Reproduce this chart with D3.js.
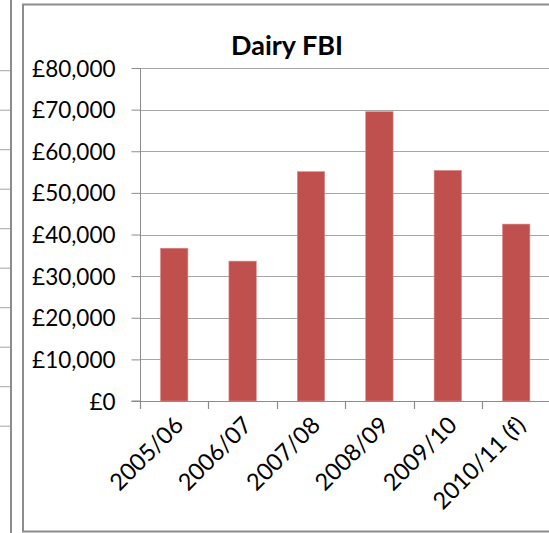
<!DOCTYPE html>
<html>
<head>
<meta charset="utf-8">
<script src="https://cdn.jsdelivr.net/npm/d3@7"></script>
<style>
  html, body { margin: 0; padding: 0; background: #fff; }
  svg { display: block; }
  text { font-family: Lato, "Open Sans", sans-serif; fill: #000; }
</style>
</head>
<body>
<svg id="chart" width="549" height="533"></svg>
<script>
const title = "Dairy FBI";
const categories = ["2005/06", "2006/07", "2007/08", "2008/09", "2009/10", "2010/11 (f)"];
const values = [36700, 33600, 55100, 69500, 55400, 42500];
const yTicks = [0, 10000, 20000, 30000, 40000, 50000, 60000, 70000, 80000];
// neighbouring chart's gridlines peeking in at the left edge (pixel rows)
const neighbourRows = [0, 1, 2, 3, 4, 5, 6, 7, 8, 9];

const svg = d3.select("#chart");
const W = 549, H = 533;

const plot = { left: 140, right: 550.4, top: 68, bottom: 401 };

// neighbour chart fragment
const nY = d3.scaleLinear().domain([0, 9]).range([70.7, 426.2]);
svg.append("g").selectAll("line").data(neighbourRows).join("line")
  .attr("x1", 0).attr("x2", 10).attr("y1", d => nY(d)).attr("y2", d => nY(d))
  .attr("stroke", "#a6a6a6").attr("stroke-width", 1);
svg.append("line").attr("x1", 11).attr("x2", 11).attr("y1", 0).attr("y2", H)
  .attr("stroke", "#8c8c8c").attr("stroke-width", 2);

// main chart frame
svg.append("rect").attr("x", 23).attr("y", 4.5).attr("width", 560).attr("height", 527)
  .attr("fill", "#fff").attr("stroke", "#8c8c8c").attr("stroke-width", 2);

const x = d3.scaleBand().domain(categories).range([plot.left, plot.right])
  .paddingInner(0.6).paddingOuter(0.3);
const y = d3.scaleLinear().domain([0, 80000]).range([plot.bottom, plot.top]);

// gridlines
svg.append("g").selectAll("line").data(yTicks.filter(d => d > 0)).join("line")
  .attr("x1", plot.left).attr("x2", plot.right)
  .attr("y1", d => Math.round(y(d)) + 0.5).attr("y2", d => Math.round(y(d)) + 0.5)
  .attr("stroke", "#a6a6a6").attr("stroke-width", 1.2);

// bars
svg.append("g").selectAll("rect").data(categories).join("rect")
  .attr("x", d => x(d)).attr("width", x.bandwidth())
  .attr("y", (d, i) => y(values[i])).attr("height", (d, i) => y(0) - y(values[i]))
  .attr("fill", "#C0504D").attr("stroke", "#d98a88").attr("stroke-width", 0.6);

// y axis
const yAxis = d3.axisLeft(y).tickValues(yTicks).tickSize(9).tickPadding(16)
  .tickFormat(d => "£" + d3.format(",")(d));
const gy = svg.append("g").attr("transform", `translate(${plot.left + 0.5},0)`).call(yAxis);
gy.select(".domain").attr("stroke", "#8c8c8c").attr("d", `M-9,${plot.bottom}H0V${plot.top}`);
gy.selectAll(".tick line").attr("stroke", "#8c8c8c");
gy.selectAll(".tick text").attr("font-size", 22.5).attr("fill", "#000").attr("dy", "0.36em");

// x axis line + boundary ticks
const boundaries = categories.map(c => x(c) - x.step() * x.paddingInner() / 2);
svg.append("line").attr("x1", plot.left).attr("x2", plot.right)
  .attr("y1", plot.bottom + 0.5).attr("y2", plot.bottom + 0.5)
  .attr("stroke", "#8c8c8c").attr("stroke-width", 1.2);
svg.append("g").selectAll("line").data(boundaries).join("line")
  .attr("x1", d => Math.round(d) + 0.5).attr("x2", d => Math.round(d) + 0.5)
  .attr("y1", plot.bottom).attr("y2", plot.bottom + 8)
  .attr("stroke", "#8c8c8c").attr("stroke-width", 1.2);

// x labels
svg.append("g").selectAll("text").data(categories).join("text")
  .attr("transform", d => `translate(${x(d) + x.bandwidth() / 2 - 1},${plot.bottom + 14}) rotate(-45)`)
  .attr("text-anchor", "end").attr("dy", "0.7em")
  .attr("font-size", 23.5)
  .text(d => d);

// title
svg.append("text").attr("x", 287).attr("y", 55).attr("text-anchor", "middle")
  .attr("font-size", 27).attr("font-weight", "bold").text(title);
</script>
</body>
</html>
